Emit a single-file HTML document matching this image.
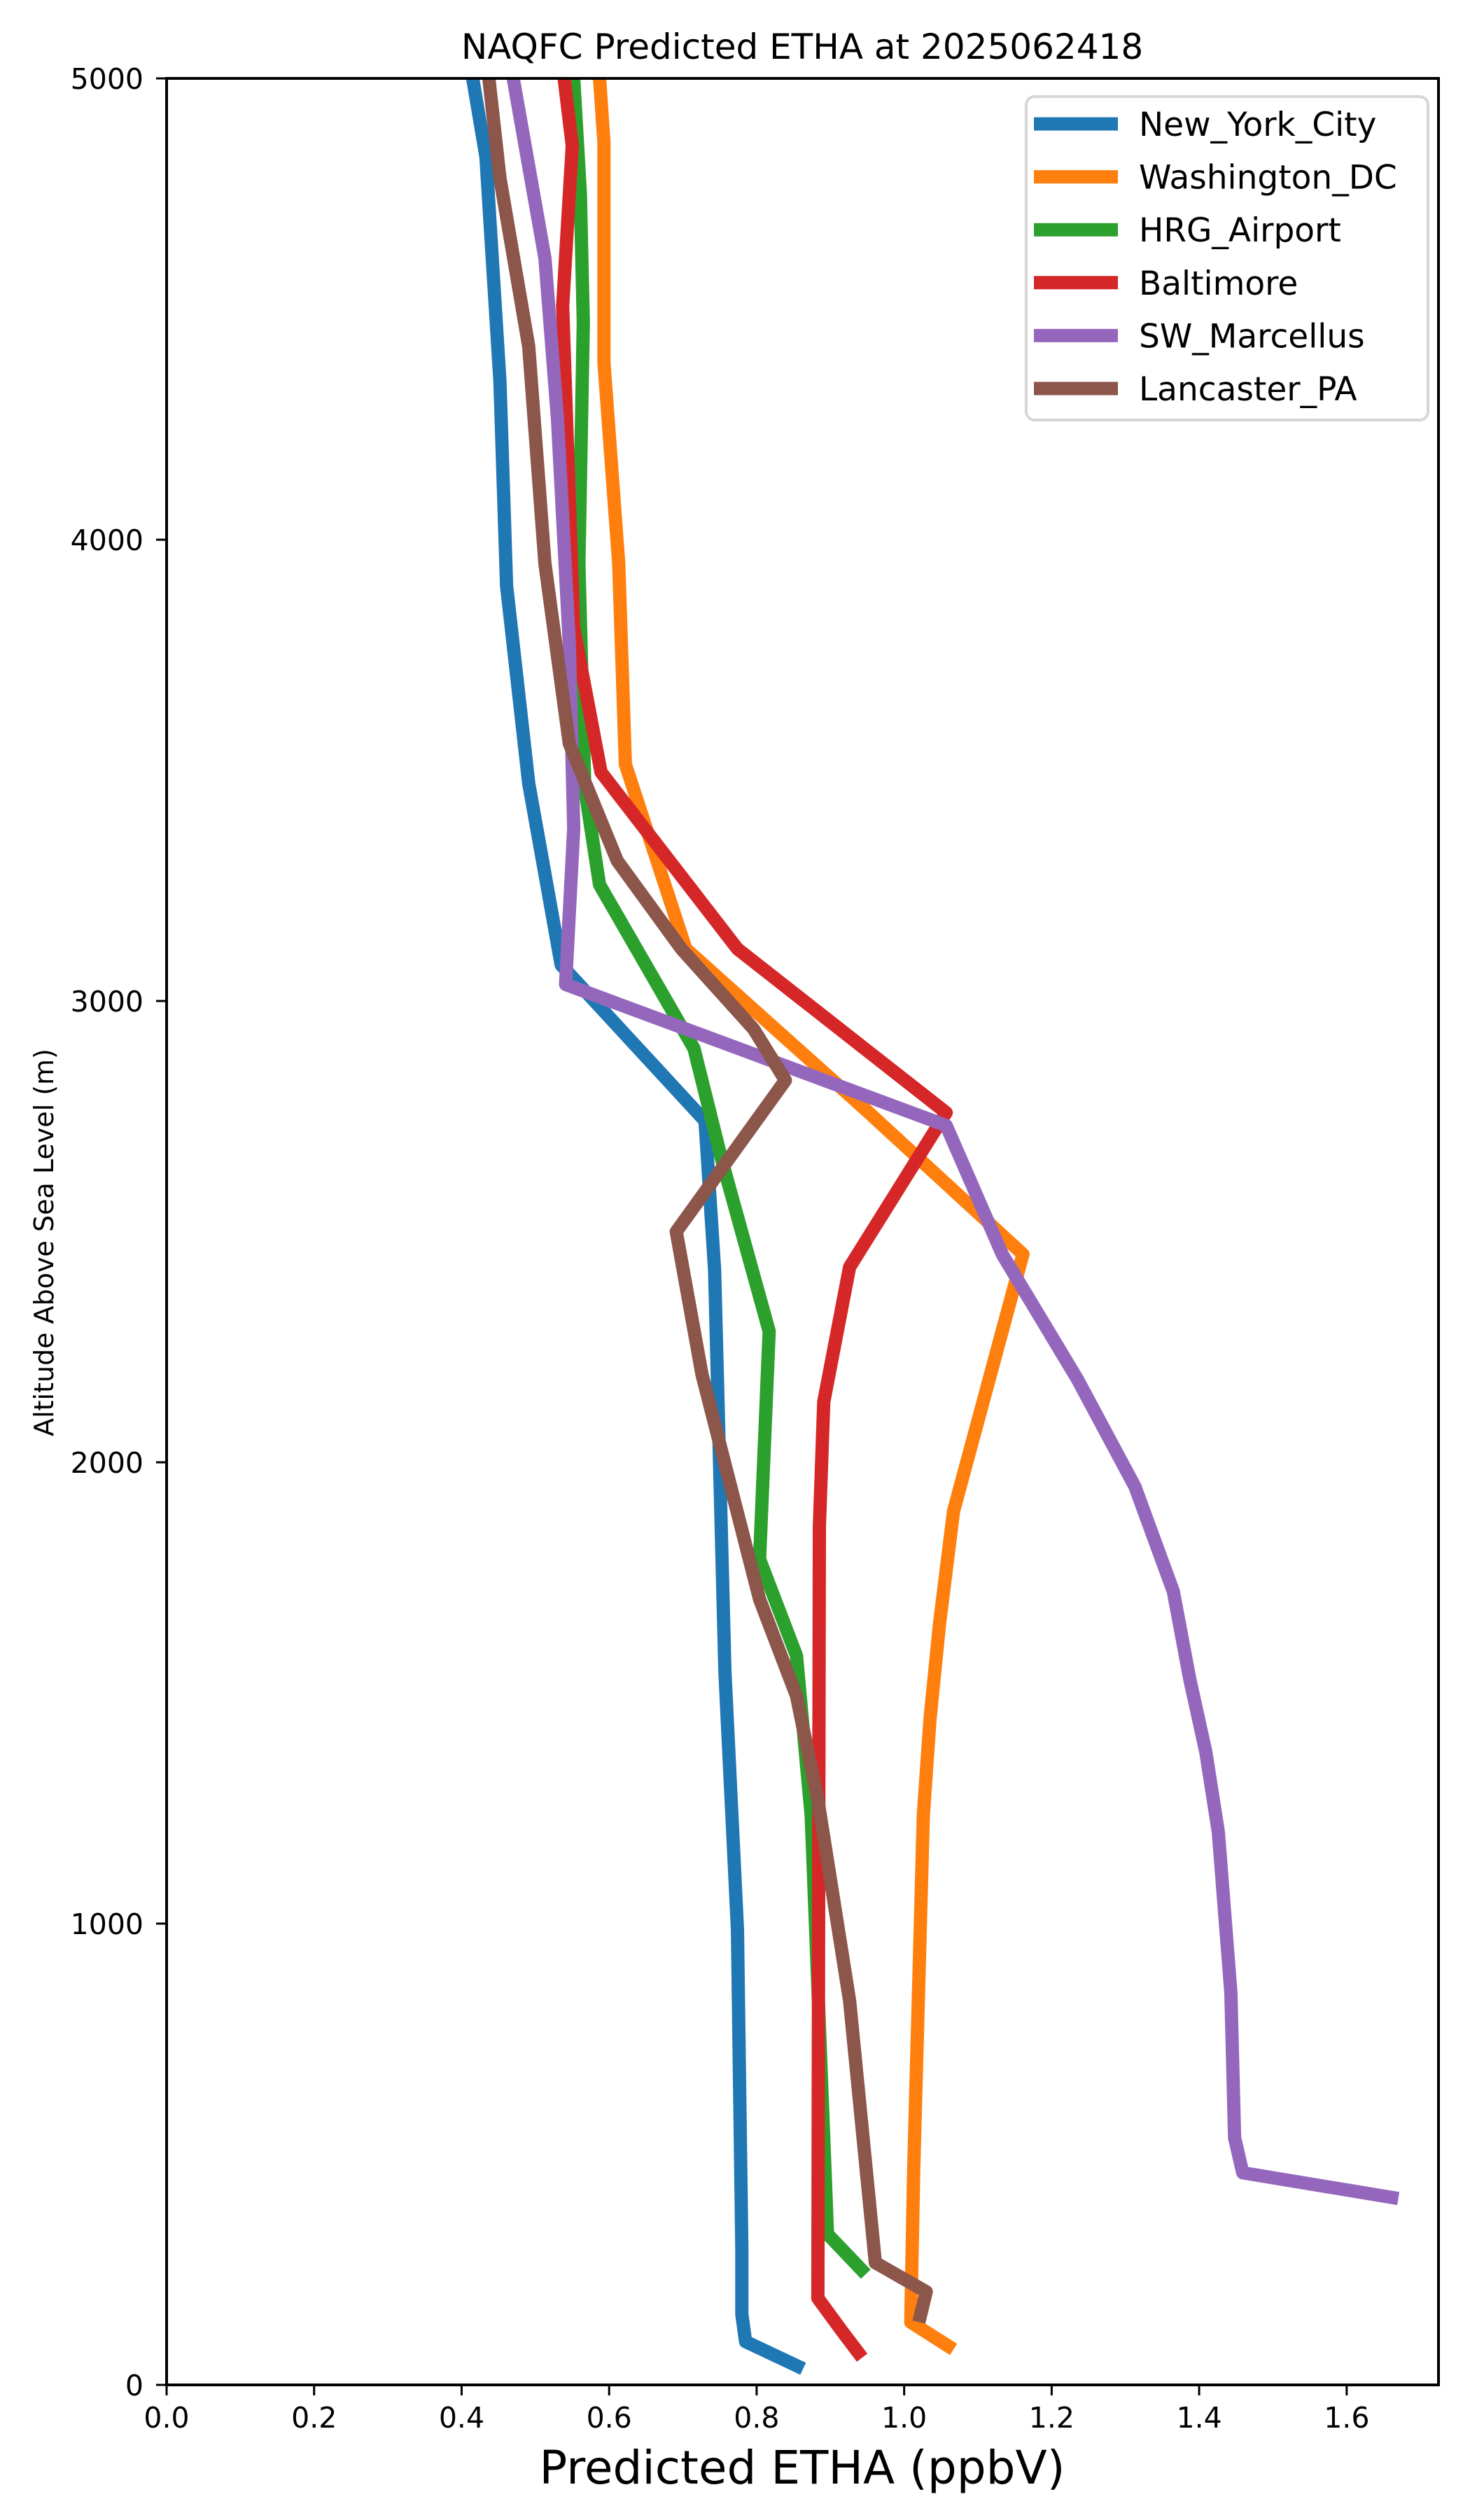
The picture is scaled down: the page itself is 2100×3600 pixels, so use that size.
<!DOCTYPE html>
<html><head><meta charset="utf-8"><style>
html,body{margin:0;padding:0;background:#fff;}
svg{display:block;font-family:"DejaVu Sans","Liberation Sans",sans-serif;}
</style></head><body>
<svg id="chart" width="2100" height="3600" viewBox="0 0 2100 3600" xmlns="http://www.w3.org/2000/svg">
<rect x="0" y="0" width="2100" height="3600" fill="#fff"/>
<g id="plot"></g>
<rect x="238" y="112" width="1817" height="3295" fill="none" stroke="#000" stroke-width="4"/>
<g id="ticks"></g>
<text x="1146" y="84" font-size="50" text-anchor="middle">NAQFC Predicted ETHA at 2025062418</text>
<text x="1146" y="3548" font-size="66" text-anchor="middle">Predicted ETHA (ppbV)</text>
<text x="0" y="0" font-size="38" text-anchor="middle" transform="translate(76,1775) rotate(-90)">Altitude Above Sea Level (m)</text>
<g id="legend">
<rect x="1466" y="138" width="574" height="462" rx="12" fill="#fff" fill-opacity="0.8" stroke="#d6d6d6" stroke-width="4"/>
</g>
</svg>
<script>
const seriesNames = ["New_York_City","Washington_DC","HRG_Airport","Baltimore","SW_Marcellus","Lancaster_PA"];
const seriesColors = ["#1f77b4","#ff7f0e","#2ca02c","#d62728","#9467bd","#8c564b"];
const nycX = [0.415,0.433,0.452,0.461,0.491,0.535,0.730,0.743,0.757,0.774,0.780,0.780,0.785,0.863];
const nycY = [5000,4830,4343,3900,3472,3078,2740,2416,1546,988,292,153,94,35];
const dcX = [0.587,0.593,0.593,0.613,0.622,0.704,0.948,1.161,1.067,1.048,1.035,1.026,1.013,1.009,1.067];
const dcY = [5000,4861,4384,3948,3513,3113,2764,2451,1894,1650,1442,1233,467,136,77];
const hrgX = [0.552,0.561,0.565,0.559,0.567,0.587,0.715,0.752,0.817,0.804,0.854,0.874,0.896,0.948];
const hrgY = [5000,4749,4471,3948,3461,3252,2897,2660,2284,1790,1581,1233,327,240];
const balX = [0.539,0.550,0.537,0.552,0.589,0.774,1.057,1.039,0.926,0.891,0.885,0.883,0.915,0.943];
const balY = [5000,4854,4506,3809,3496,3113,2758,2712,2423,2131,1859,188,118,59];
const swmX = [0.470,0.513,0.530,0.546,0.552,0.541,1.057,1.133,1.235,1.313,1.365,1.387,1.409,1.426,1.443,1.448,1.459,1.670];
const swmY = [5000,4610,4262,3774,3374,3036,2730,2451,2180,1947,1720,1532,1372,1198,850,536,460,404];
const lanX = [0.437,0.452,0.491,0.513,0.546,0.611,0.698,0.796,0.839,0.691,0.726,0.804,0.854,0.883,0.926,0.961,1.030,1.020];
const lanY = [5000,4784,4419,3948,3558,3304,3113,2939,2828,2500,2190,1703,1494,1268,833,265,202,136];
const xTicks = [0.0,0.2,0.4,0.6,0.8,1.0,1.2,1.4,1.6];
const xTickLabels = ["0.0","0.2","0.4","0.6","0.8","1.0","1.2","1.4","1.6"];
const yTicks = [0,1000,2000,3000,4000,5000];
const yTickLabels = ["0","1000","2000","3000","4000","5000"];

const NS = "http://www.w3.org/2000/svg";
const L = 238, R = 2055, T = 112, B = 3407, XMAX = 1.7245, YMAX = 5000;
function sx(v){ return L + v / XMAX * (R - L); }
function sy(v){ return B - v / YMAX * (B - T); }
const allX = [nycX, dcX, hrgX, balX, swmX, lanX];
const allY = [nycY, dcY, hrgY, balY, swmY, lanY];
const plot = document.getElementById('plot');
for (let i = 0; i < allX.length; i++) {
  const pts = allX[i].map((v, j) => sx(v).toFixed(1) + ',' + sy(allY[i][j]).toFixed(1)).join(' ');
  const pl = document.createElementNS(NS, 'polyline');
  pl.setAttribute('points', pts);
  pl.setAttribute('fill', 'none');
  pl.setAttribute('stroke', seriesColors[i]);
  pl.setAttribute('stroke-width', '19');
  pl.setAttribute('stroke-linejoin', 'round');
  
  
  plot.appendChild(pl);
}
const ticks = document.getElementById('ticks');
xTicks.forEach((v, i) => {
  const ln = document.createElementNS(NS, 'line');
  ln.setAttribute('x1', sx(v)); ln.setAttribute('x2', sx(v));
  ln.setAttribute('y1', B); ln.setAttribute('y2', B + 15);
  ln.setAttribute('stroke', '#000'); ln.setAttribute('stroke-width', '3');
  
  
  ticks.appendChild(ln);
  const t = document.createElementNS(NS, 'text');
  t.setAttribute('x', sx(v)); t.setAttribute('y', 3468);
  t.setAttribute('font-size', '41'); t.setAttribute('text-anchor', 'middle');
  t.textContent = xTickLabels[i];
  
  
  ticks.appendChild(t);
});
yTicks.forEach((v, i) => {
  const ln = document.createElementNS(NS, 'line');
  ln.setAttribute('x1', L - 15); ln.setAttribute('x2', L);
  ln.setAttribute('y1', sy(v)); ln.setAttribute('y2', sy(v));
  ln.setAttribute('stroke', '#000'); ln.setAttribute('stroke-width', '3');
  
  
  ticks.appendChild(ln);
  const t = document.createElementNS(NS, 'text');
  t.setAttribute('x', 205); t.setAttribute('y', sy(v) + 15);
  t.setAttribute('font-size', '41'); t.setAttribute('text-anchor', 'end');
  t.textContent = yTickLabels[i];
  
  
  ticks.appendChild(t);
});
const legend = document.getElementById('legend');
seriesNames.forEach((n, i) => {
  const y = 177 + i * 75.6;
  const ln = document.createElementNS(NS, 'line');
  ln.setAttribute('x1', 1477); ln.setAttribute('x2', 1597);
  ln.setAttribute('y1', y); ln.setAttribute('y2', y);
  ln.setAttribute('stroke', seriesColors[i]); ln.setAttribute('stroke-width', '19');
  
  
  legend.appendChild(ln);
  const t = document.createElementNS(NS, 'text');
  t.setAttribute('x', 1627); t.setAttribute('y', y + 17);
  t.setAttribute('font-size', '47');
  t.textContent = n;
  
  
  legend.appendChild(t);
});
</script>
</body></html>
